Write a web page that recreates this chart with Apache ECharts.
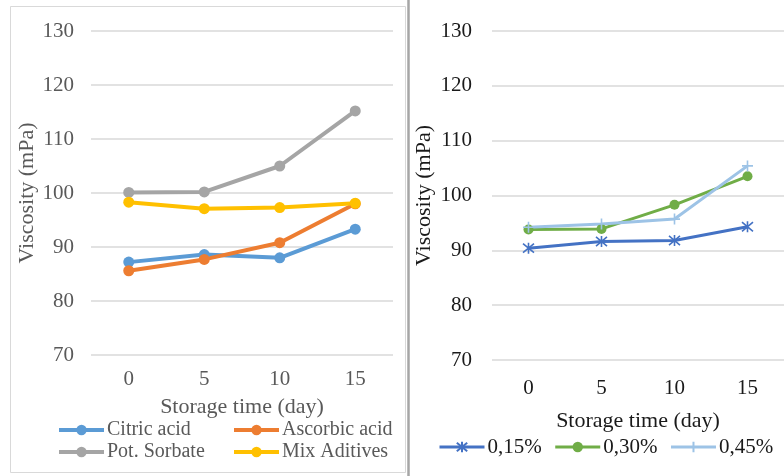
<!DOCTYPE html>
<html>
<head>
<meta charset="utf-8">
<script src="https://cdn.jsdelivr.net/npm/echarts@6/dist/echarts.min.js"></script>
<style>
  html, body { margin: 0; padding: 0; background: #fff; }
  #chart { width: 784px; height: 476px; }
</style>
</head>
<body>
<div id="chart"></div>
<script>
// Storage days on the horizontal axis
const days = ['0', '5', '10', '15'];

// Left panel: viscosity (mPa) by preservative
const citricAcid = [87.2, 88.6, 88.0, 93.3];
const ascorbicAcid = [85.6, 87.7, 90.8, 98.0];
const potSorbate = [100.1, 100.2, 105.0, 115.2];
const mixAditives = [98.3, 97.1, 97.3, 98.1];

// Right panel: viscosity (mPa) by concentration
const conc015 = [90.4, 91.6, 91.8, 94.3];
const conc030 = [93.8, 93.9, 98.3, 103.5];
const conc045 = [94.2, 94.8, 95.7, 105.4];

const FONT = 'Liberation Serif';
const GRID_LINE = '#d9d9d9';
const TICK_SIZE = 21;
const NAME_SIZE = 22;

const starPath = 'path://M0,0L10,10M10,0L0,10M5,-1L5,11';
const plusPath = 'path://M5,0L5,10M0,5L10,5';

function yAxisCfg(gridIndex, color, gap, margin) {
  return {
    type: 'value', gridIndex, min: 70, max: 130, interval: 10,
    name: 'Viscosity (mPa)', nameLocation: 'middle', nameGap: gap,
    nameTextStyle: { fontFamily: FONT, fontSize: NAME_SIZE, color },
    axisLine: { show: false }, axisTick: { show: false },
    axisLabel: { fontFamily: FONT, fontSize: TICK_SIZE, color, margin },
    splitLine: { lineStyle: { color: GRID_LINE, width: 1.5 } }
  };
}

function xAxisCfg(gridIndex, color, gap, margin) {
  return {
    type: 'category', gridIndex, data: days, boundaryGap: true,
    name: 'Storage time (day)', nameLocation: 'middle', nameGap: gap,
    nameTextStyle: { fontFamily: FONT, fontSize: NAME_SIZE, color, verticalAlign: 'top' },
    axisLine: { show: false }, axisTick: { show: false },
    axisLabel: { fontFamily: FONT, fontSize: TICK_SIZE, color, margin }
  };
}

function leftLine(name, data, color) {
  return {
    name, type: 'line', xAxisIndex: 0, yAxisIndex: 0, data,
    symbol: 'circle', symbolSize: 11,
    lineStyle: { color, width: 4 },
    itemStyle: { color },
    emphasis: { disabled: true }
  };
}

function rightLine(name, data, color, symbol, size, stroke) {
  return {
    name, type: 'line', xAxisIndex: 1, yAxisIndex: 1, data,
    symbol, symbolSize: size,
    lineStyle: { color, width: 3 },
    itemStyle: stroke ? { color, borderColor: color, borderWidth: 1.6 } : { color },
    emphasis: { disabled: true }
  };
}

const leftText = '#595959';
const rightText = '#1a1a1a';

function legendCfg(data, orient, left, top, color, lineWidth, itemGap, fontSize) {
  return {
    data, orient, left, top, padding: 0,
    itemWidth: 45, itemHeight: 13, itemGap,
    lineStyle: { width: lineWidth },
    textStyle: { fontFamily: FONT, fontSize, color, padding: [0, 0, 0, -2], lineHeight: 22 }
  };
}

const option = {
  animation: false,
  backgroundColor: '#ffffff',
  graphic: [
    { type: 'rect', shape: { x: 10.5, y: 6.5, width: 395, height: 466 },
      style: { fill: 'none', stroke: '#d9d9d9', lineWidth: 1 }, silent: true },
    { type: 'line', shape: { x1: 408.5, y1: 0, x2: 408.5, y2: 476 },
      style: { stroke: '#a6a6a6', lineWidth: 2.5 }, silent: true }
  ],
  grid: [
    { left: 91, right: 391, top: 31, bottom: 121 },
    { left: 492, right: 0, top: 31, bottom: 116 }
  ],
  xAxis: [xAxisCfg(0, leftText, 41, 14), xAxisCfg(1, rightText, 50, 18)],
  yAxis: [yAxisCfg(0, leftText, 53, 17), yAxisCfg(1, rightText, 57, 20)],
  legend: [
    legendCfg(['Citric acid', 'Pot. Sorbate'], 'vertical', 57, 419, leftText, 4, 0, 20),
    legendCfg(['Ascorbic acid', 'Mix Aditives'], 'vertical', 232, 419, leftText, 4, 0, 20),
    legendCfg(['0,15%', '0,30%', '0,45%'], 'horizontal', 438, 436, rightText, 3, 12, 21)
  ],
  series: [
    leftLine('Citric acid', citricAcid, '#5b9bd5'),
    leftLine('Ascorbic acid', ascorbicAcid, '#ed7d31'),
    leftLine('Pot. Sorbate', potSorbate, '#a5a5a5'),
    leftLine('Mix Aditives', mixAditives, '#ffc000'),
    rightLine('0,15%', conc015, '#4472c4', starPath, 11, true),
    rightLine('0,30%', conc030, '#70ad47', 'circle', 10, false),
    rightLine('0,45%', conc045, '#9dc3e6', plusPath, 11, true)
  ]
};

const chart = echarts.init(document.getElementById('chart'), null, { renderer: 'canvas' });
chart.setOption(option);
</script>
</body>
</html>
